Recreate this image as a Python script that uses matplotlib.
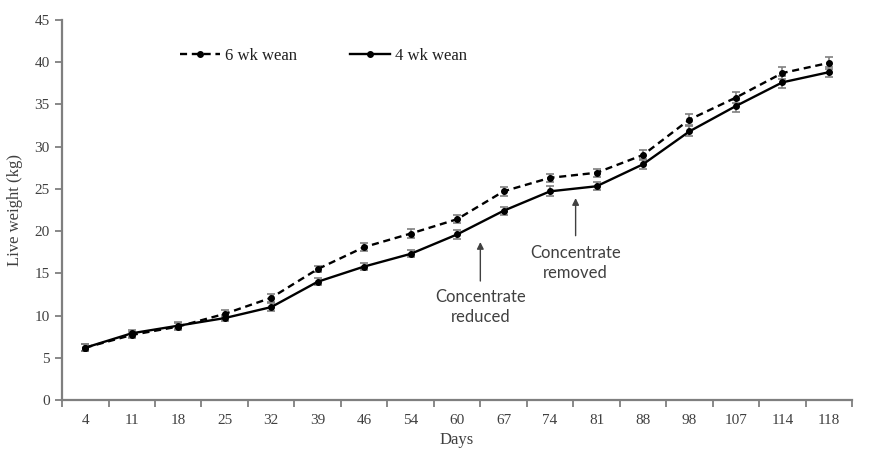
import numpy as np
import matplotlib
matplotlib.use('Agg')
import matplotlib.pyplot as plt

days = ['4', '11', '18', '25', '32', '39', '46', '54', '60', '67', '74', '81', '88', '98', '107', '114', '118']
wean6 = [6.2, 7.7, 8.7, 10.2, 12.1, 15.5, 18.1, 19.7, 21.4, 24.7, 26.3, 26.9, 29.0, 33.2, 35.8, 38.7, 39.9]
wean4 = [6.2, 7.9, 8.8, 9.7, 11.0, 14.0, 15.8, 17.3, 19.6, 22.4, 24.7, 25.3, 27.9, 31.8, 34.8, 37.6, 38.8]
err6 = [0.4, 0.4, 0.4, 0.4, 0.5, 0.4, 0.5, 0.5, 0.5, 0.5, 0.5, 0.5, 0.6, 0.6, 0.6, 0.7, 0.7]
err4 = [0.4, 0.4, 0.4, 0.4, 0.5, 0.4, 0.4, 0.4, 0.5, 0.5, 0.6, 0.5, 0.6, 0.6, 0.7, 0.7, 0.6]

serif = 'Liberation Serif'
sans = 'Lato'
axis_color = '#7f7f7f'
text_color = '#404040'

fig = plt.figure(figsize=(8.74, 4.5), dpi=100)
ax = fig.add_axes([0.071, 0.111, 0.904, 0.845])

x = np.arange(len(days))
ax.errorbar(x, wean6, yerr=err6, fmt='none', ecolor='#808080', elinewidth=1.2, capsize=3, capthick=1.2, zorder=2)
ax.errorbar(x, wean4, yerr=err4, fmt='none', ecolor='#808080', elinewidth=1.2, capsize=3, capthick=1.2, zorder=2)
ax.plot(x, wean6, ls=(0, (3, 2)), color='black', lw=1.7, marker='o', ms=4, label='6 wk wean', zorder=3)
ax.plot(x, wean4, ls='-', color='black', lw=1.7, marker='o', ms=4, label='4 wk wean', zorder=3)

ax.set_xlim(-0.5, len(days) - 0.5)
ax.set_ylim(0, 45)
ax.set_yticks(np.arange(0, 46, 5))
ax.set_xticks(np.arange(-0.5, len(days), 1))
ax.set_xticklabels([])
ax.set_xticks(x, minor=True)
ax.set_xticklabels(days, minor=True)
ax.tick_params(axis='x', which='minor', length=0, pad=10)
ax.tick_params(axis='x', which='major', length=5, width=1.3, color=axis_color)
ax.tick_params(axis='y', length=5, width=1.3, color=axis_color, pad=4)
for lab in ax.get_xticklabels(minor=True) + ax.get_yticklabels():
  lab.set_fontfamily(serif)
  lab.set_fontsize(11)
  lab.set_color(text_color)

for s in ['top', 'right']:
  ax.spines[s].set_visible(False)
for s in ['left', 'bottom']:
  ax.spines[s].set_color(axis_color)
  ax.spines[s].set_linewidth(1.6)

ax.set_xlabel('Days', fontfamily=serif, fontsize=12, color=text_color, labelpad=4)
ax.set_ylabel('Live weight (kg)', fontfamily=serif, fontsize=12, color=text_color, labelpad=8)

leg = ax.legend(loc='upper left', bbox_to_anchor=(0.13, 0.965), ncol=2, frameon=False,
                prop={'family': serif, 'size': 12}, handlelength=2.4, columnspacing=3.2, handletextpad=0.3)
for t in leg.get_texts():
  t.set_color('#202020')

ax.annotate('Concentrate\nreduced', xy=(8.5, 18.7), xytext=(8.5, 13.1), ha='center', va='top',
            fontfamily=sans, fontsize=12, color=text_color, linespacing=1.3,
            arrowprops=dict(arrowstyle='-|>', color=text_color, lw=1, mutation_scale=10, shrinkA=4, shrinkB=0))
ax.annotate('Concentrate\nremoved', xy=(10.55, 23.9), xytext=(10.55, 18.3), ha='center', va='top',
            fontfamily=sans, fontsize=12, color=text_color, linespacing=1.3,
            arrowprops=dict(arrowstyle='-|>', color=text_color, lw=1, mutation_scale=10, shrinkA=5, shrinkB=0))

fig.savefig('out.png', dpi=100, facecolor='white')
